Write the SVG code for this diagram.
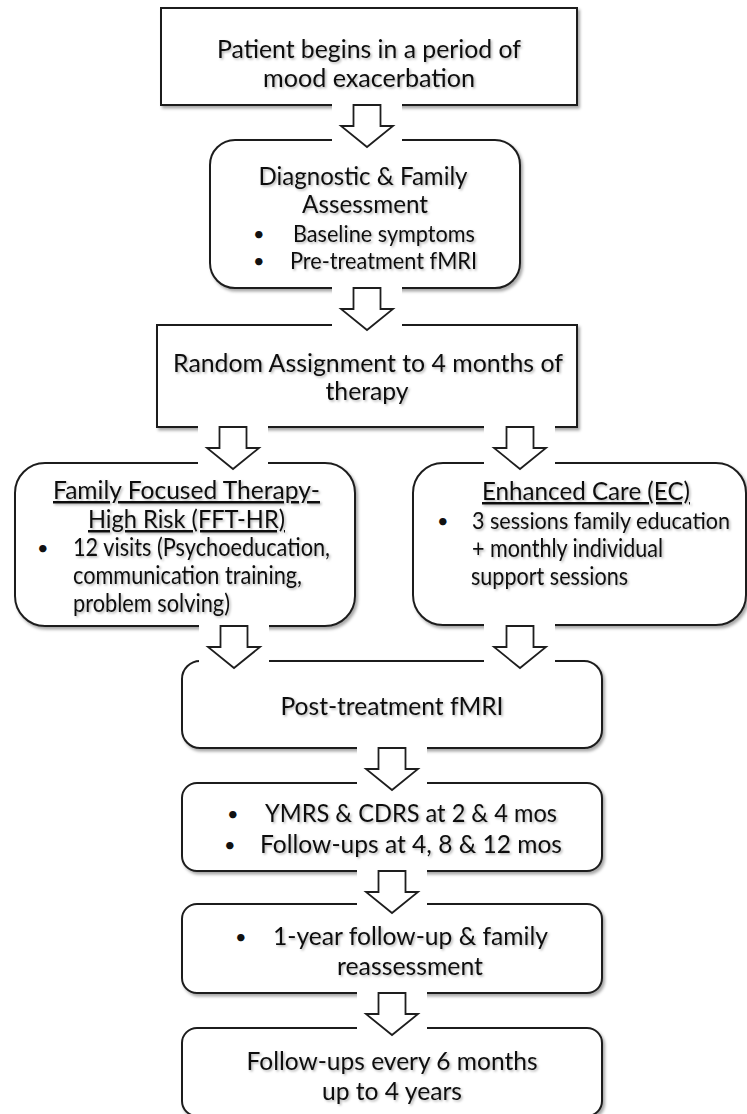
<svg xmlns="http://www.w3.org/2000/svg" width="747" height="1114" viewBox="0 0 747 1114">
<defs>
<filter id="bsh" x="-5%" y="-5%" width="115%" height="120%">
<feDropShadow dx="2" dy="2.5" stdDeviation="1.5" flood-color="#000" flood-opacity="0.35"/>
</filter>
<filter id="tsh" x="-5%" y="-20%" width="115%" height="150%">
<feDropShadow dx="1.5" dy="1.5" stdDeviation="1.2" flood-color="#000" flood-opacity="0.3"/>
</filter>
</defs>
<style>
.box{fill:#fff;stroke:#1e1e1e;stroke-width:2;filter:url(#bsh)}
.t{font-family:Lato,"Liberation Sans",sans-serif;font-size:25px;fill:#111;filter:url(#tsh)}
.s{font-size:23.5px}
.xs{font-size:22.5px}
.b{font-family:Lato,"Liberation Sans",sans-serif;font-size:20px;fill:#111}
.c{text-anchor:middle}
.u{text-decoration:underline}
.gap{fill:#fff;stroke:none}
.arr{fill:#fff;stroke:#1e1e1e;stroke-width:1.8;stroke-linejoin:miter}
</style>
<rect width="747" height="1114" fill="#fff"/>

<g id="n1">
<rect class="box" x="161" y="8" width="416" height="97"/>
<text class="t c" x="369" y="58" textLength="304" lengthAdjust="spacingAndGlyphs">Patient begins in a period of</text>
<text class="t c" x="369" y="87" textLength="212" lengthAdjust="spacingAndGlyphs">mood exacerbation</text>
</g>

<g id="n2">
<rect class="box" x="210" y="140" width="310" height="148" rx="25" ry="25"/>
<text class="t c" x="363" y="185" textLength="209" lengthAdjust="spacingAndGlyphs">Diagnostic &amp; Family</text>
<text class="t c" x="365" y="213" textLength="126" lengthAdjust="spacingAndGlyphs">Assessment</text>
<text class="b" x="253" y="241">•</text>
<text class="t s" x="293" y="242" textLength="182" lengthAdjust="spacingAndGlyphs">Baseline symptoms</text>
<text class="b" x="253" y="268">•</text>
<text class="t s" x="290" y="269" textLength="187" lengthAdjust="spacingAndGlyphs">Pre-treatment fMRI</text>
</g>

<g id="n3">
<rect class="box" x="157" y="325" width="420" height="102"/>
<text class="t c" x="368" y="372" textLength="390" lengthAdjust="spacingAndGlyphs">Random Assignment to 4 months of</text>
<text class="t c" x="367" y="400" textLength="83" lengthAdjust="spacingAndGlyphs">therapy</text>
</g>

<g id="n4">
<rect class="box" x="15" y="463" width="340" height="163" rx="30" ry="30"/>
<text class="t c u" x="186.5" y="499" textLength="267" lengthAdjust="spacingAndGlyphs">Family Focused Therapy-</text>
<text class="t c u" x="186.5" y="528" textLength="197" lengthAdjust="spacingAndGlyphs">High Risk (FFT-HR)</text>
<text class="b" x="37" y="555">•</text>
<text class="t" x="73" y="556" textLength="257" lengthAdjust="spacingAndGlyphs">12 visits (Psychoeducation,</text>
<text class="t" x="73" y="584" textLength="229" lengthAdjust="spacingAndGlyphs">communication training,</text>
<text class="t" x="73" y="612" textLength="157" lengthAdjust="spacingAndGlyphs">problem solving)</text>
</g>

<g id="n5">
<rect class="box" x="413" y="463" width="333" height="162" rx="30" ry="30"/>
<text class="t c u" x="586" y="500" textLength="208" lengthAdjust="spacingAndGlyphs">Enhanced Care (EC)</text>
<text class="b" x="437" y="528">•</text>
<text class="t xs" x="472" y="529" textLength="258" lengthAdjust="spacingAndGlyphs">3 sessions family education</text>
<text class="t" x="472" y="557" textLength="191" lengthAdjust="spacingAndGlyphs">+ monthly individual</text>
<text class="t" x="471" y="585" textLength="157" lengthAdjust="spacingAndGlyphs">support sessions</text>
</g>

<g id="n6">
<rect class="box" x="182" y="661" width="420" height="87" rx="18" ry="18"/>
<text class="t c" x="392" y="715" textLength="223" lengthAdjust="spacingAndGlyphs">Post-treatment fMRI</text>
</g>

<g id="n7">
<rect class="box" x="182" y="783" width="420" height="88" rx="15" ry="15"/>
<text class="b" x="227" y="821">•</text>
<text class="t" x="265" y="822" textLength="292" lengthAdjust="spacingAndGlyphs">YMRS &amp; CDRS at 2 &amp; 4 mos</text>
<text class="b" x="224" y="852">•</text>
<text class="t" x="260" y="853" textLength="302" lengthAdjust="spacingAndGlyphs">Follow-ups at 4, 8 &amp; 12 mos</text>
</g>

<g id="n8">
<rect class="box" x="182" y="904" width="420" height="89" rx="15" ry="15"/>
<text class="b" x="235" y="944">•</text>
<text class="t" x="273" y="945" textLength="275" lengthAdjust="spacingAndGlyphs">1-year follow-up &amp; family</text>
<text class="t c" x="410" y="975" textLength="146" lengthAdjust="spacingAndGlyphs">reassessment</text>
</g>

<g id="n9">
<rect class="box" x="182" y="1028" width="420" height="88" rx="15" ry="15"/>
<text class="t c" x="392" y="1070" textLength="291" lengthAdjust="spacingAndGlyphs">Follow-ups every 6 months</text>
<text class="t c" x="392" y="1100" textLength="140" lengthAdjust="spacingAndGlyphs">up to 4 years</text>
</g>

<g id="connectors">
<rect class="gap" x="332" y="101" width="70" height="46"/>
<path class="arr" d="M353.5,105 H380.5 V126 H393 L367,147 L341,126 H353.5 Z"/>
<rect class="gap" x="332" y="284" width="70" height="46"/>
<path class="arr" d="M353.5,288 H380.5 V309 H393 L367,330 L341,309 H353.5 Z"/>
<rect class="gap" x="198" y="423" width="70" height="46"/>
<path class="arr" d="M219.5,427 H246.5 V448 H259 L233,469 L207,448 H219.5 Z"/>
<rect class="gap" x="484" y="423" width="71" height="46"/>
<path class="arr" d="M506.5,427 H533.5 V448 H546 L520,469 L494,448 H506.5 Z"/>
<rect class="gap" x="199" y="622" width="70" height="46"/>
<path class="arr" d="M220.5,626 H247.5 V647 H260 L234,668 L208,647 H220.5 Z"/>
<rect class="gap" x="484" y="622" width="71" height="46"/>
<path class="arr" d="M506.5,626 H533.5 V647 H546 L520,668 L494,647 H506.5 Z"/>
<rect class="gap" x="357" y="744" width="70" height="46"/>
<path class="arr" d="M378.5,748 H405.5 V769 H418 L392,790 L366,769 H378.5 Z"/>
<rect class="gap" x="357" y="867" width="70" height="46"/>
<path class="arr" d="M378.5,871 H405.5 V892 H418 L392,913 L366,892 H378.5 Z"/>
<rect class="gap" x="357" y="989" width="70" height="46"/>
<path class="arr" d="M378.5,993 H405.5 V1014 H418 L392,1035 L366,1014 H378.5 Z"/>
</g>
</svg>
